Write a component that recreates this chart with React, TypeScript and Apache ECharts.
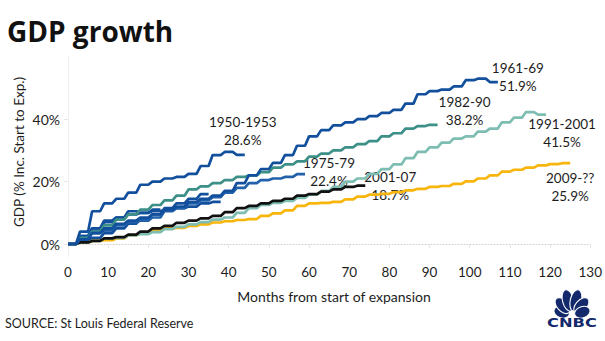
import React, { useEffect, useRef } from "react";
import * as echarts from "echarts";

// Quarterly cumulative GDP growth (% since start of expansion), one value per quarter
const exp1950 = [0, 4.0, 10.5, 13.0, 14.5, 16.5, 19.0, 20.0, 21.0, 21.5, 22.5, 25.0, 28.5, 29.5, 28.6];
const exp1954 = [0, 2.5, 5.0, 7.0, 8.5, 9.5, 10.0, 10.5, 11.0, 11.5, 12.0, 13.0, 13.5];
const exp1958 = [0, 2.5, 5.0, 7.5, 8.5, 10.5, 10.0, 11.0];
const exp1961 = [0, 1.5, 3.5, 5.0, 6.5, 7.5, 8.5, 9.5, 11.0, 12.0, 13.5, 14.5, 15.5, 17.0, 19.5, 22.0, 24.0, 26.0, 28.5, 31.5, 34.5, 36.5, 38.0, 39.0, 40.0, 41.0, 42.0, 43.0, 45.0, 48.0, 49.0, 49.5, 50.5, 52.5, 53.0, 51.9];
const exp1970 = [0, 1.0, 2.0, 3.5, 5.0, 6.5, 8.0, 9.5, 11.5, 13.0, 14.5, 16.0];
const exp1975 = [0, 1.5, 3.5, 4.5, 6.0, 7.0, 7.5, 8.5, 10.5, 11.5, 13.0, 14.0, 15.0, 16.5, 18.0, 19.5, 20.5, 21.0, 21.5, 22.4];
const exp1980 = [0, 1.8, 4.0, 4.4];
const exp1982 = [0, 2.0, 4.0, 6.0, 7.8, 9.5, 11.0, 12.5, 14.0, 15.5, 17.5, 18.5, 19.5, 20.5, 21.5, 22.0, 23.0, 24.5, 25.5, 26.5, 28.0, 29.0, 30.0, 31.0, 32.0, 33.0, 34.5, 35.5, 37.0, 37.8, 38.2];
const exp1991 = [0, 0.5, 1.0, 1.8, 2.0, 2.8, 3.2, 3.8, 4.8, 5.5, 6.3, 7.0, 7.8, 8.5, 10.0, 11.5, 12.5, 13.2, 13.8, 14.8, 15.8, 17.0, 18.3, 20.0, 21.0, 22.5, 24.0, 25.5, 27.5, 29.5, 31.0, 32.5, 33.8, 34.5, 36.0, 37.0, 39.0, 40.5, 42.3, 41.5];
const exp2001 = [0, 0.5, 1.0, 1.8, 2.2, 3.0, 4.0, 5.0, 5.8, 6.8, 7.5, 8.2, 9.0, 10.2, 11.5, 12.2, 13.0, 13.8, 14.5, 15.5, 16.0, 16.8, 17.5, 18.3, 18.7];
const exp2009 = [0, 0.5, 1.0, 1.2, 1.8, 2.8, 3.3, 4.5, 5.0, 5.2, 5.8, 6.3, 6.9, 7.3, 7.7, 8.0, 9.0, 9.8, 10.8, 12.2, 13.0, 13.2, 13.5, 14.3, 15.2, 15.8, 16.1, 16.6, 17.2, 17.7, 18.3, 18.6, 19.3, 20.1, 21.0, 22.0, 23.2, 23.8, 24.5, 25.2, 25.6, 25.9];

const xTicks = [0, 10, 20, 30, 40, 50, 60, 70, 80, 90, 100, 110, 120, 130];
const yTicks = [0, 20, 40];

const TITLE = "GDP growth";
const SOURCE = "SOURCE: St Louis Federal Reserve";
const Y_NAME = "GDP (% Inc. Start to Exp.)";
const X_NAME = "Months from start of expansion";

const FONT = 'Lato, "Open Sans", sans-serif';
const DARK_BLUE = "#124f9c";
const NAVY = "#13296b";

type Spec = { name: string; data: number[]; color: string; label?: string; offset?: number[] };

const specs: Spec[] = [
  { name: "1954-57", data: exp1954, color: DARK_BLUE },
  { name: "1958-60", data: exp1958, color: DARK_BLUE },
  { name: "1970-73", data: exp1970, color: DARK_BLUE },
  { name: "1980-81", data: exp1980, color: DARK_BLUE },
  { name: "2009-??", data: exp2009, color: "#f8b50c", label: "2009-??", offset: [0, 24] },
  { name: "1991-2001", data: exp1991, color: "#7dbdb2", label: "1991-2001", offset: [16, 18] },
  { name: "2001-07", data: exp2001, color: "#111111", label: "2001-07", offset: [25, 0] },
  { name: "1982-90", data: exp1982, color: "#3d9088", label: "1982-90", offset: [27, -14] },
  { name: "1975-79", data: exp1975, color: "#2160aa", label: "1975-79", offset: [24, -2] },
  { name: "1961-69", data: exp1961, color: DARK_BLUE, label: "1961-69", offset: [20, -5] },
  { name: "1950-1953", data: exp1950, color: DARK_BLUE, label: "1950-1953", offset: [-2, -24] },
];

function toMonthly(vals: number[]) {
  const out: number[][] = [];
  vals.forEach((v, i) => {
    for (let k = 0; k < 3; k++) out.push([3 * i + k, v]);
  });
  return out;
}

function feathers() {
  const base = [572, 316];
  const defs = [
    { a: -70, d: 11, ry: 8 },
    { a: -42, d: 14, ry: 9.5 },
    { a: -14, d: 16, ry: 11 },
    { a: 14, d: 16, ry: 11 },
    { a: 42, d: 14, ry: 9.5 },
    { a: 70, d: 11, ry: 8 },
  ];
  return defs.map((f) => ({
    type: "ellipse",
    x: base[0],
    y: base[1],
    rotation: (-f.a * Math.PI) / 180,
    shape: { cx: 0, cy: -f.d, rx: 5.6, ry: f.ry },
    style: { fill: NAVY, stroke: "#fff", lineWidth: 1.1 },
  }));
}

export default function App() {
  const ref = useRef<HTMLDivElement>(null);
  useEffect(() => {
    if (!ref.current) return;
    const chart = echarts.init(ref.current, undefined, { renderer: "svg" });
    const series: any[] = specs.map((s, idx) => {
      const data = toMonthly(s.data);
      const last = data[data.length - 1];
      const ser: any = {
        name: s.name,
        type: "line",
        data,
        showSymbol: false,
        symbol: "none",
        lineStyle: { color: s.color, width: 2.7 },
        itemStyle: { color: s.color },
        z: 2 + idx,
      };
      if (s.label) {
        ser.markPoint = {
          silent: true,
          data: [
            {
              coord: last,
              symbol: "circle",
              symbolSize: 1,
              itemStyle: { color: "rgba(0,0,0,0)" },
              label: {
                show: true,
                position: "inside",
                offset: s.offset,
                formatter: s.label + "\n" + last[1].toFixed(1) + "%",
                color: "#1d1d1d",
                fontFamily: FONT,
                fontSize: 13.5,
                lineHeight: 18,
                align: "center",
                verticalAlign: "middle",
              },
            },
          ],
        };
      }
      if (idx === 0) {
        ser.markLine = {
          silent: true,
          symbol: ["none", "none"],
          label: { show: false },
          lineStyle: { color: "#cfcfcf", type: [1, 2], width: 1 },
          data: [{ yAxis: 0 }],
        };
      }
      return ser;
    });

    chart.setOption({
      animation: false,
      grid: { left: 68, right: 12, top: 56.8, bottom: 84.5, containLabel: false },
      xAxis: {
        type: "value",
        min: 0,
        max: 130,
        interval: 10,
        axisLine: { show: true, lineStyle: { color: "#eeeeee" } },
        axisTick: { show: true, length: 4, lineStyle: { color: "#e6e6e6" } },
        splitLine: { show: false },
        axisLabel: {
          customValues: xTicks,
          color: "#1d1d1d",
          fontFamily: FONT,
          fontSize: 13.5,
          margin: 8,
        },
      },
      yAxis: {
        type: "value",
        min: -4,
        max: 60,
        axisLine: { show: true, lineStyle: { color: "#eeeeee" } },
        axisTick: { show: true, length: 4, customValues: yTicks, lineStyle: { color: "#e6e6e6" } },
        splitLine: { show: false },
        axisLabel: {
          customValues: yTicks,
          formatter: (v: number) => v + "%",
          color: "#1d1d1d",
          fontFamily: FONT,
          fontSize: 14,
          margin: 8,
        },
      },
      series,
      graphic: [
        {
          type: "text",
          x: 7,
          y: 31,
          style: { text: TITLE, fontFamily: '"Open Sans", sans-serif', fontWeight: "bold", fontSize: 28, fill: "#111", verticalAlign: "middle" },
        },
        {
          type: "text",
          x: 18.5,
          y: 152,
          rotation: Math.PI / 2,
          style: { text: Y_NAME, fontFamily: FONT, fontSize: 13.5, fill: "#1d1d1d", align: "center", verticalAlign: "middle" },
        },
        {
          type: "text",
          x: 334,
          y: 296,
          style: { text: X_NAME, fontFamily: FONT, fontSize: 14, fill: "#1d1d1d", align: "center", verticalAlign: "middle" },
        },
        {
          type: "text",
          x: 5,
          y: 323,
          style: { text: SOURCE, fontFamily: FONT, fontSize: 12.5, fill: "#1d1d1d", verticalAlign: "middle" },
        },
        ...feathers(),
        {
          type: "text",
          x: 572,
          y: 322.5,
          scaleX: 1.25,
          style: { text: "CNBC", fontFamily: '"DejaVu Sans", sans-serif', fontWeight: 900, fontSize: 13, fill: NAVY, align: "center", verticalAlign: "middle" },
        },
      ],
    });
    return () => chart.dispose();
  }, []);
  return <div ref={ref} style={{ width: 605, height: 341, position: "absolute", left: 0, top: 0 }} />;
}
